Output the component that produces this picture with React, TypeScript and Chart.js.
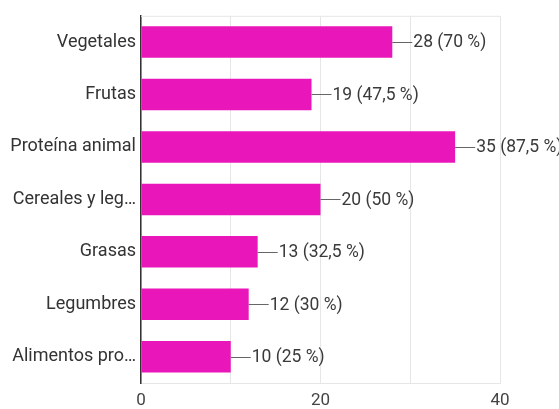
import React, { useEffect, useRef } from "react";
import { Chart, registerables } from "chart.js";

Chart.register(...registerables);

const categories = [
  "Vegetales",
  "Frutas",
  "Proteína animal",
  "Cereales y leg…",
  "Grasas",
  "Legumbres",
  "Alimentos pro…",
];
const counts = [28, 19, 35, 20, 13, 12, 10];
const percents = ["70", "47,5", "87,5", "50", "32,5", "30", "25"];
const xTickLabels = [0, 20, 40];

const FONT = "Roboto, 'Noto Sans', sans-serif";

const leaderPlugin = {
  id: "leaderLabels",
  beforeDatasetsDraw(chart: any) {
    const { ctx, chartArea } = chart;
    ctx.save();
    ctx.strokeStyle = "#e6e6e6";
    ctx.lineWidth = 1;
    ctx.beginPath();
    ctx.moveTo(chartArea.left, chartArea.top + 0.5);
    ctx.lineTo(chartArea.right, chartArea.top + 0.5);
    ctx.stroke();
    ctx.restore();
  },
  afterDatasetsDraw(chart: any) {
    const { ctx } = chart;
    const meta = chart.getDatasetMeta(0);
    ctx.save();
    meta.data.forEach((el: any, i: number) => {
      const x = el.x;
      const y = Math.round(el.y) + 0.5;
      ctx.strokeStyle = "#666";
      ctx.lineWidth = 1;
      ctx.beginPath();
      ctx.moveTo(x, y);
      ctx.lineTo(x + 20, y);
      ctx.stroke();
      ctx.fillStyle = "#3a3a3a";
      ctx.font = `17.5px ${FONT}`;
      ctx.textAlign = "left";
      ctx.textBaseline = "middle";
      ctx.fillText(`${counts[i]} (${percents[i]} %)`, x + 21, el.y + 1);
    });
    ctx.restore();
  },
};

export default function App() {
  const ref = useRef<HTMLCanvasElement>(null);
  useEffect(() => {
    if (!ref.current) return;
    const chart = new Chart(ref.current, {
      type: "bar",
      data: {
        labels: categories,
        datasets: [
          {
            data: counts,
            backgroundColor: "#E917BA",
            borderWidth: 0,
            barPercentage: 0.6,
            categoryPercentage: 1,
          },
        ],
      },
      options: {
        indexAxis: "y",
        responsive: false,
        maintainAspectRatio: false,
        animation: false,
        layout: { padding: { top: 13, right: 59, left: 0, bottom: 0 } },
        plugins: {
          legend: { display: false },
          tooltip: { enabled: false },
        },
        scales: {
          x: {
            min: 0,
            max: 40,
            ticks: {
              stepSize: 10,
              autoSkip: false,
              maxRotation: 0,
              padding: 8,
              color: "#444",
              font: { family: FONT, size: 17 },
              callback: (v: any) => (xTickLabels.includes(Number(v)) ? String(v) : ""),
            },
            grid: { color: "#e6e6e6", drawTicks: false },
            border: { color: "#e6e6e6" },
            afterFit: (s: any) => {
              s.height = 26;
            },
          },
          y: {
            ticks: {
              padding: 5,
              color: "#333",
              font: { family: FONT, size: 18 },
            },
            grid: { display: false, drawTicks: false },
            border: { color: "#333", width: 1.5 },
            afterFit: (s: any) => {
              s.width = 141;
            },
          },
        },
      },
      plugins: [leaderPlugin],
    });
    return () => chart.destroy();
  }, []);
  return (
    <div style={{ position: "absolute", left: 0, top: 0, width: 559, height: 409, background: "#fff" }}>
      <canvas ref={ref} width={559} height={409} style={{ display: "block" }} />
    </div>
  );
}
